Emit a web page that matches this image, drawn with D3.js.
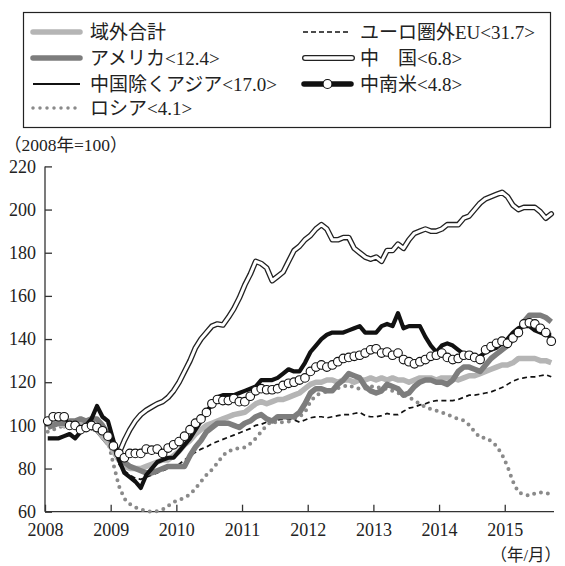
<!DOCTYPE html>
<html>
<head>
<meta charset="UTF-8">
<script src="https://cdn.jsdelivr.net/npm/d3@7"></script>
<style>
  body {margin: 0; background: #fff;}
  text {font-family: "Liberation Serif", "Noto Sans CJK JP", serif; fill: #222;}
</style>
</head>
<body>
<div id="chart"></div>
<script>
// monthly data, 2008/01 .. 2015/09 (2008 = 100)
var years = [2008, 2009, 2010, 2011, 2012, 2013, 2014, 2015];
var yTicks = [60, 80, 100, 120, 140, 160, 180, 200, 220];

var total = [101,102,101,100,101,100,101,100,99,98,95,92,
  88,84,81,80,80,80,81,82,83,84,84,86,
  88,91,93,96,98,100,101,102,103,104,105,105.5,
  106,108,110,111,110,111,112,112,113,114,115,117,
  119,120,120,121,121,120,121,121,120,121,121,122,
  121,122,121,122,121,121,120,121,122,122,122,121,
  122,122,122,121,122,123,123,124,125,126,127,128,
  128,129,131,131,131,131,130,130,129];

var america = [99,100,101,101,102,102,103,102,103,103,100,96,
  90,86,83,81,80,79,78,78,79,80,81,81,
  81,81,86,90,93,97,99,101,101,101,100,99,
  101,102,104,105,103,102,104,104,104,104,106,110,
  115,117,117,116,116,119,121,124,123,122,118,116,
  115,116,119,118,117,114,115,118,120,121,121,120,
  120,119,121,125,127,127,126,125,128,131,133,135,
  137,140,143,148,151,151,151,150,148];

var asiaExChina = [94,94,94,95,96,94,97,100,103,109,104,102,
  93,84,78,76,74,71,77,80,83,84,85,85,
  88,91,94,98,102,106,110,113,114,114,114,115,
  116,117,118,121,121,121,122,124,126,125,125,129,
  134,137,140,142,143,143,143,144,145,146,143,143,
  143,146,147,146,152,145,146,146,146,141,137,134,
  137,138,137,135,133,132,131,132,134,135,136,138,
  140,143,145,146,146,144,143,142,142];

var russia = [97,98,99,100,101,101,102,102,101,100,98,93,
  82,72,66,63.5,62,61,60.3,60,60.2,61,62.7,64.5,
  65.5,66.5,68,70.8,74,77,79.5,82.5,86,88,89,89.5,
  89.8,91.5,94,97,100,102,101,101.5,101.7,103,104,106,
  111,114,115,115.6,116.5,117.2,118,118.7,117.5,117,117,118,
  118,117,117,116,115,114,113,111.5,110,108.5,107.5,106.8,
  106,105,104,103,102.3,100.2,97,94.3,94.3,92.8,90.5,86.5,
  81,74,69,68,67.4,68.5,69,68.5,68.2];

var euNonEuro = [101,100,101,101,100,101,100,99,99,98,96,93,
  88,82,79,77,75.5,75,76,77,78,79,80,80.5,
  82,84,86,87.5,89,90,91.5,92.5,93.5,94.5,95.5,96.5,
  97.5,98.5,100,100.5,101.5,102,102.5,103,103,102.5,101.5,102.5,
  103.5,104,104,103.5,104,104.5,105,105,105.5,106,104.5,104,
  104,104.5,105.5,105,105,106.5,108,108.5,109.5,110,111,111.5,
  111.5,111.5,111.5,112,113,114,114,114.5,115,115.5,116.5,117.5,
  119,120.5,121.5,122,122.5,122.5,123,123.5,122.5];

var china = [101,102,101,100,101,100,101,100,99,98,95,92,
  91,87,93,98,102,105,107,108.5,110,111,113,116,
  120,125,130,136,140,143,146,147,146.5,150,154,159,
  165,170,176,175,173,167,169,171,176,181,183,186,
  188,191,193,191,186,186,187,187,182,180,178,177,
  178,176,181,181,184,182,186,189,190,191,190,190,
  191,193,193,193,196,197,200,203,205,206,207,208,
  206,202,200,201,201,201,199,196,198];

var latam = [102,104,104,104,100,100,98,99,100,99,97.5,95,
  90.5,87,85,87,87,87,89,88.5,89,87,89.5,91,
  92.5,95,98,101,103,106,110,112,111.5,111.5,112.5,111,
  111,113.5,116,117,116.5,116.5,117,118.5,119.5,120,121,122,
  125,127,128,127,128,129.5,131,131.5,132,132.5,133.5,135,
  135.5,133.5,134,132.5,133.5,130.5,129.5,128.5,129.5,130.5,132,132.5,
  133.5,131.5,130.5,131,132.5,132.5,131.5,130.5,135,136.5,138,139,
  138,140.5,143,147,147.5,147,145,143,139];

var W = 565, H = 566;
var svg = d3.select("#chart").append("svg")
    .attr("width", W).attr("height", H);

var x = d3.scaleLinear().domain([0, 93]).range([45, 554]);
var y = d3.scaleLinear().domain([60, 220]).range([511.7, 166.4]);

var line = d3.line()
    .x(function(d, i) { return x(i + 0.5); })
    .y(function(d) { return y(d); });

// axes
var yAxis = d3.axisLeft(y).tickValues(yTicks).tickSize(-7).tickPadding(9);
var gy = svg.append("g").attr("transform", "translate(45,0)").call(yAxis);
var xAxis = d3.axisBottom(x).tickValues(years.map(function(d, i) { return i * 12; }))
    .tickFormat(function(d, i) { return years[i]; }).tickSize(-7).tickPadding(12);
var gx = svg.append("g").attr("transform", "translate(0,511.7)").call(xAxis);
[gx, gy].forEach(function(g) {
  g.select(".domain").attr("stroke", "#333").attr("stroke-width", 1.3);
  g.selectAll(".tick line").attr("stroke", "#333").attr("stroke-width", 1.3);
  g.selectAll(".tick text").attr("font-size", 18).attr("fill", "#222")
    .style("font-family", "'Liberation Serif', serif");
});
gx.select(".domain").attr("d", "M45,0H554");
gy.select(".domain").attr("d", "M0,166.4V511.7");

// series
var plot = svg.append("g").attr("fill", "none");
plot.append("path").attr("d", line(china)).attr("stroke", "#222").attr("stroke-width", 5.6)
    .attr("stroke-linecap", "round").attr("stroke-linejoin", "round");
plot.append("path").attr("d", line(china)).attr("stroke", "#fff").attr("stroke-width", 3)
    .attr("stroke-linecap", "round").attr("stroke-linejoin", "round");
plot.append("path").attr("d", line(russia)).attr("stroke", "#8a8a8a").attr("stroke-width", 4)
    .attr("stroke-dasharray", "0,7").attr("stroke-linecap", "round");
plot.append("path").attr("d", line(euNonEuro)).attr("stroke", "#111").attr("stroke-width", 1.7)
    .attr("stroke-dasharray", "5,3.5");
plot.append("path").attr("d", line(total)).attr("stroke", "#b5b5b5").attr("stroke-width", 5.5)
    .attr("stroke-linejoin", "round");
plot.append("path").attr("d", line(america)).attr("stroke", "#7d7d7d").attr("stroke-width", 5.5)
    .attr("stroke-linejoin", "round");
plot.append("path").attr("d", line(asiaExChina)).attr("stroke", "#111").attr("stroke-width", 4.2)
    .attr("stroke-linejoin", "round");
plot.append("path").attr("d", line(latam)).attr("stroke", "#111").attr("stroke-width", 2.5);
plot.selectAll("circle.latam").data(latam).enter().append("circle")
    .attr("class", "latam")
    .attr("cx", function(d, i) { return x(i + 0.5); })
    .attr("cy", function(d) { return y(d); })
    .attr("r", 4.3)
    .attr("fill", "#fff").attr("stroke", "#111").attr("stroke-width", 1.1);

// labels
svg.append("text").attr("x", 4).attr("y", 151).attr("font-size", 17.5).text("（2008年=100）");
svg.append("text").attr("x", 561).attr("y", 561).attr("font-size", 16.5)
    .attr("text-anchor", "end").text("（年/月）");

// legend
var lg = svg.append("g");
lg.append("rect").attr("x", 23.5).attr("y", 12.5).attr("width", 527).attr("height", 115)
    .attr("fill", "#fff").attr("stroke", "#222").attr("stroke-width", 1.2);

var rowY = [32, 58, 84, 108];
function lgLine(x1, yy, attrs) {
  var p = lg.append("line").attr("x1", x1).attr("x2", x1 + 47).attr("y1", yy).attr("y2", yy);
  Object.keys(attrs).forEach(function(k) { p.attr(k, attrs[k]); });
  return p;
}
function lgText(tx, yy, s) {
  lg.append("text").attr("x", tx).attr("y", yy + 6.5).attr("font-size", 19).text(s);
}
lgLine(33, rowY[0], {"stroke": "#b5b5b5", "stroke-width": 5.5, "stroke-linecap": "round"});
lgText(90, rowY[0], "域外合計");
lgLine(33, rowY[1], {"stroke": "#7d7d7d", "stroke-width": 5.5, "stroke-linecap": "round"});
lgText(90, rowY[1], "アメリカ<12.4>");
lgLine(33, rowY[2], {"stroke": "#111", "stroke-width": 2});
lgText(90, rowY[2], "中国除くアジア<17.0>");
lgLine(33, rowY[3], {"stroke": "#8a8a8a", "stroke-width": 3.5, "stroke-dasharray": "0,7", "stroke-linecap": "round"});
lgText(90, rowY[3], "ロシア<4.1>");

lgLine(303, rowY[0], {"stroke": "#111", "stroke-width": 1.7, "stroke-dasharray": "5,3"});
lgText(360, rowY[0], "ユーロ圏外EU<31.7>");
lgLine(305, rowY[1], {"stroke": "#222", "stroke-width": 6, "stroke-linecap": "round"});
lgLine(305, rowY[1], {"stroke": "#fff", "stroke-width": 3.4, "stroke-linecap": "round"});
lgText(360, rowY[1], "中　国<6.8>");
lgLine(304, rowY[2], {"stroke": "#111", "stroke-width": 5.5, "stroke-linecap": "round"});
lg.append("circle").attr("cx", 327.5).attr("cy", rowY[2]).attr("r", 4.5)
    .attr("fill", "#fff").attr("stroke", "#111").attr("stroke-width", 1.2);
lgText(360, rowY[2], "中南米<4.8>");
</script>
</body>
</html>
